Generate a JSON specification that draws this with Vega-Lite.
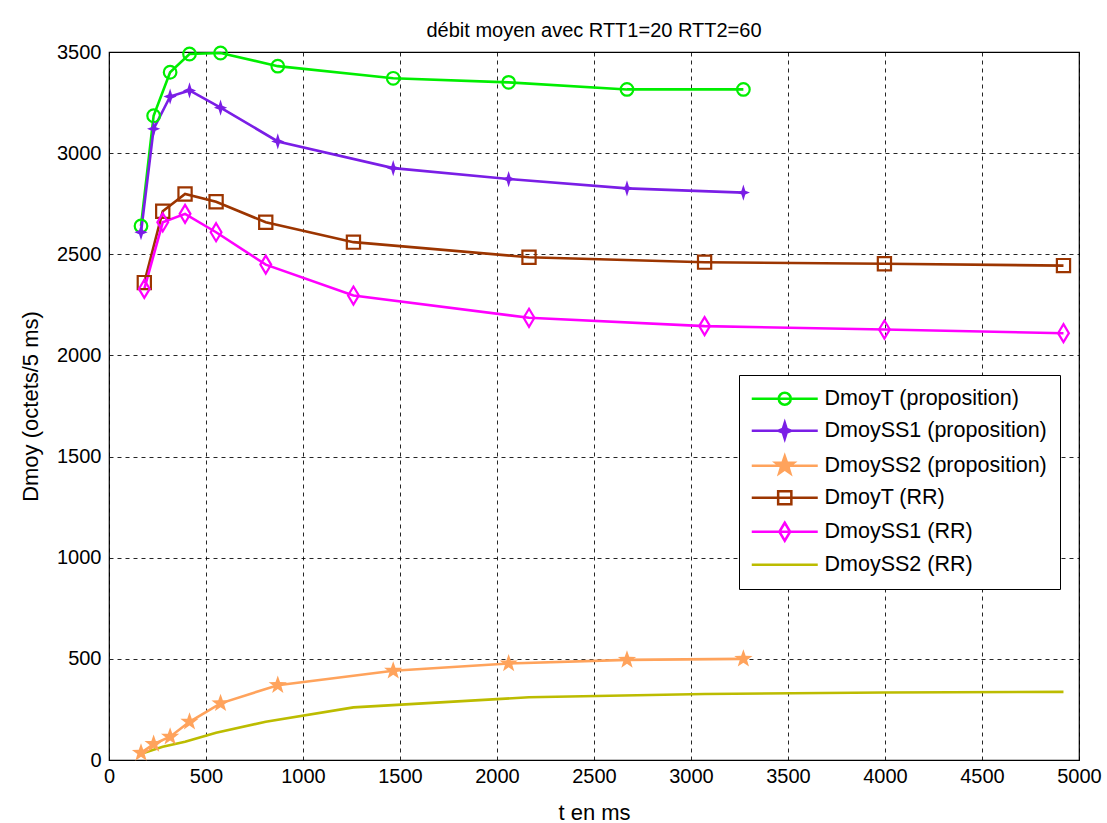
{
  "$schema": "https://vega.github.io/schema/vega-lite/v6.json",
  "width": 970,
  "height": 708,
  "autosize": {"type": "none"},
  "padding": {"left": 109, "top": 52, "right": 28, "bottom": 63},
  "background": "white",
  "title": {
    "text": "débit moyen avec RTT1=20 RTT2=60",
    "fontSize": 20,
    "fontWeight": "normal",
    "font": "Liberation Sans",
    "color": "black",
    "frame": "group",
    "offset": 1
  },
  "config": {
    "font": "Liberation Sans",
    "view": {"stroke": "black", "strokeWidth": 1.2},
    "axis": {
      "grid": true,
      "gridColor": "black",
      "gridDash": [4, 4],
      "gridOpacity": 0.85,
      "gridWidth": 1,
      "domain": false,
      "ticks": false,
      "labelFlush": false,
      "labelOverlap": false,
      "labelFont": "Liberation Sans",
      "labelFontSize": 20,
      "labelColor": "black",
      "titleFont": "Liberation Sans",
      "titleFontSize": 22,
      "titleFontWeight": "normal",
      "titleColor": "black"
    },
    "legend": {
      "title": null,
      "orient": "none",
      "legendX": 630,
      "legendY": 323,
      "direction": "vertical",
      "symbolSize": 144,
      "symbolStrokeWidth": 2.5,
      "symbolOpacity": 1,
      "symbolOffset": 22,
      "labelOffset": 29,
      "labelFont": "Liberation Sans",
      "labelFontSize": 21.5,
      "labelColor": "black",
      "labelLimit": 400,
      "strokeColor": "black",
      "fillColor": "white",
      "padding": 13,
      "rowPadding": 7
    }
  },
  "data": {
    "values": [
      {"series": "DmoyT (proposition)", "t": 165, "d": 2640},
      {"series": "DmoyT (proposition)", "t": 230, "d": 3185},
      {"series": "DmoyT (proposition)", "t": 315, "d": 3400},
      {"series": "DmoyT (proposition)", "t": 415, "d": 3490},
      {"series": "DmoyT (proposition)", "t": 575, "d": 3495},
      {"series": "DmoyT (proposition)", "t": 870, "d": 3430},
      {"series": "DmoyT (proposition)", "t": 1465, "d": 3370},
      {"series": "DmoyT (proposition)", "t": 2060, "d": 3350},
      {"series": "DmoyT (proposition)", "t": 2670, "d": 3315},
      {"series": "DmoyT (proposition)", "t": 3270, "d": 3315},
      {"series": "DmoySS1 (proposition)", "t": 165, "d": 2609},
      {"series": "DmoySS1 (proposition)", "t": 230, "d": 3120},
      {"series": "DmoySS1 (proposition)", "t": 315, "d": 3280},
      {"series": "DmoySS1 (proposition)", "t": 415, "d": 3310},
      {"series": "DmoySS1 (proposition)", "t": 575, "d": 3225},
      {"series": "DmoySS1 (proposition)", "t": 870, "d": 3058},
      {"series": "DmoySS1 (proposition)", "t": 1465, "d": 2926},
      {"series": "DmoySS1 (proposition)", "t": 2060, "d": 2872},
      {"series": "DmoySS1 (proposition)", "t": 2670, "d": 2826},
      {"series": "DmoySS1 (proposition)", "t": 3270, "d": 2805},
      {"series": "DmoySS2 (proposition)", "t": 165, "d": 35},
      {"series": "DmoySS2 (proposition)", "t": 230, "d": 79},
      {"series": "DmoySS2 (proposition)", "t": 315, "d": 115},
      {"series": "DmoySS2 (proposition)", "t": 415, "d": 189},
      {"series": "DmoySS2 (proposition)", "t": 575, "d": 280},
      {"series": "DmoySS2 (proposition)", "t": 870, "d": 370},
      {"series": "DmoySS2 (proposition)", "t": 1465, "d": 441},
      {"series": "DmoySS2 (proposition)", "t": 2060, "d": 477},
      {"series": "DmoySS2 (proposition)", "t": 2670, "d": 495},
      {"series": "DmoySS2 (proposition)", "t": 3270, "d": 500},
      {"series": "DmoyT (RR)", "t": 182, "d": 2360},
      {"series": "DmoyT (RR)", "t": 277, "d": 2713},
      {"series": "DmoyT (RR)", "t": 392, "d": 2798},
      {"series": "DmoyT (RR)", "t": 552, "d": 2760},
      {"series": "DmoyT (RR)", "t": 808, "d": 2658},
      {"series": "DmoyT (RR)", "t": 1260, "d": 2560},
      {"series": "DmoyT (RR)", "t": 2165, "d": 2485},
      {"series": "DmoyT (RR)", "t": 3070, "d": 2461},
      {"series": "DmoyT (RR)", "t": 3997, "d": 2453},
      {"series": "DmoyT (RR)", "t": 4920, "d": 2444},
      {"series": "DmoySS1 (RR)", "t": 182, "d": 2329},
      {"series": "DmoySS1 (RR)", "t": 277, "d": 2658},
      {"series": "DmoySS1 (RR)", "t": 392, "d": 2700},
      {"series": "DmoySS1 (RR)", "t": 552, "d": 2609},
      {"series": "DmoySS1 (RR)", "t": 808, "d": 2449},
      {"series": "DmoySS1 (RR)", "t": 1260, "d": 2296},
      {"series": "DmoySS1 (RR)", "t": 2165, "d": 2186},
      {"series": "DmoySS1 (RR)", "t": 3070, "d": 2145},
      {"series": "DmoySS1 (RR)", "t": 3997, "d": 2128},
      {"series": "DmoySS1 (RR)", "t": 4920, "d": 2110},
      {"series": "DmoySS2 (RR)", "t": 182, "d": 36},
      {"series": "DmoySS2 (RR)", "t": 277, "d": 66},
      {"series": "DmoySS2 (RR)", "t": 392, "d": 90},
      {"series": "DmoySS2 (RR)", "t": 552, "d": 135},
      {"series": "DmoySS2 (RR)", "t": 808, "d": 189},
      {"series": "DmoySS2 (RR)", "t": 1260, "d": 260},
      {"series": "DmoySS2 (RR)", "t": 2165, "d": 310},
      {"series": "DmoySS2 (RR)", "t": 3070, "d": 326},
      {"series": "DmoySS2 (RR)", "t": 3997, "d": 334},
      {"series": "DmoySS2 (RR)", "t": 4920, "d": 337}
    ]
  },
  "encoding": {
    "x": {
      "field": "t",
      "type": "quantitative",
      "scale": {"domain": [0, 5000], "nice": false, "zero": false},
      "axis": {
        "values": [0, 500, 1000, 1500, 2000, 2500, 3000, 3500, 4000, 4500, 5000],
        "format": "d",
        "title": "t en ms",
        "labelPadding": 6,
        "titlePadding": 16
      }
    },
    "y": {
      "field": "d",
      "type": "quantitative",
      "scale": {"domain": [0, 3500], "nice": false},
      "axis": {
        "values": [0, 500, 1000, 1500, 2000, 2500, 3000, 3500],
        "format": "d",
        "title": "Dmoy (octets/5 ms)",
        "labelPadding": 8,
        "titlePadding": 14
      }
    },
    "color": {
      "field": "series",
      "type": "nominal",
      "scale": {
        "domain": [
          "DmoyT (proposition)", "DmoySS1 (proposition)", "DmoySS2 (proposition)",
          "DmoyT (RR)", "DmoySS1 (RR)", "DmoySS2 (RR)",
          "DmoyT (proposition) ", "DmoySS1 (proposition) ", "DmoySS2 (proposition) ",
          "DmoyT (RR) ", "DmoySS1 (RR) ", "DmoySS2 (RR) "
        ],
        "range": [
          "#00ee00", "#7a1ee6", "#ffa35c", "#9c3500", "#ff00ff", "#bcbc00",
          "#00ee00", "#7a1ee6", "#ffa35c", "#9c3500", "#ff00ff", "#bcbc00"
        ]
      },
      "legend": {
        "values": [
          "DmoyT (proposition) ", "DmoySS1 (proposition) ", "DmoySS2 (proposition) ",
          "DmoyT (RR) ", "DmoySS1 (RR) ", "DmoySS2 (RR) "
        ],
        "labelExpr": "trim(datum.label)"
      }
    }
  },
  "layer": [
    {
      "mark": {"type": "line", "strokeWidth": 2.6}
    },
    {
      "transform": [{"filter": {"field": "series", "oneOf": ["DmoyT (proposition)", "DmoyT (RR)", "DmoySS1 (RR)"]}}],
      "mark": {"type": "point", "filled": false, "strokeWidth": 2.2, "opacity": 1, "size": 144},
      "encoding": {
        "shape": {
          "field": "series",
          "type": "nominal",
          "scale": {
            "domain": [
              "DmoyT (proposition)", "DmoySS1 (proposition)", "DmoySS2 (proposition)",
              "DmoyT (RR)", "DmoySS1 (RR)", "DmoySS2 (RR)",
              "DmoyT (proposition) ", "DmoySS1 (proposition) ", "DmoySS2 (proposition) ",
              "DmoyT (RR) ", "DmoySS1 (RR) ", "DmoySS2 (RR) "
            ],
            "range": [
              "M-1.05,0A1.05,1.05 0 1,0 1.05,0A1.05,1.05 0 1,0 -1.05,0Z",
              "M0,-1.35L0.32,-0.32L1.1,0L0.32,0.32L0,1.35L-0.32,0.32L-1.1,0L-0.32,-0.32Z",
              "M0,-1.6L0.376,-0.518L1.522,-0.494L0.608,0.198L0.941,1.294L0,0.64L-0.941,1.294L-0.608,0.198L-1.522,-0.494L-0.376,-0.518Z",
              "M-1.1,-1.1H1.1V1.1H-1.1Z",
              "M0,-1.5L0.9,0L0,1.5L-0.9,0Z",
              "circle",
              "M-5.5,0H5.5M-1,0A1,1 0 1,1 1,0A1,1 0 1,1 -1,0ZM-1,0A1,1 0 1,0 1,0A1,1 0 1,0 -1,0Z",
              "M-5.5,0H5.5M0,-1.35L0.32,-0.32L1.1,0L0.32,0.32L0,1.35L-0.32,0.32L-1.1,0L-0.32,-0.32Z",
              "M-5.5,0H5.5M0,-1.6L0.376,-0.518L1.522,-0.494L0.608,0.198L0.941,1.294L0,0.64L-0.941,1.294L-0.608,0.198L-1.522,-0.494L-0.376,-0.518Z",
              "M-5.5,0H5.5M-1.1,-1.1H1.1V1.1H-1.1ZM-1.1,-1.1V1.1H1.1V-1.1Z",
              "M-5.5,0H5.5M0,-1.5L0.9,0L0,1.5L-0.9,0ZM0,-1.5L-0.9,0L0,1.5L0.9,0Z",
              "M-5.5,0H5.5"
            ]
          },
          "legend": {
            "values": [
              "DmoyT (proposition) ", "DmoySS1 (proposition) ", "DmoySS2 (proposition) ",
              "DmoyT (RR) ", "DmoySS1 (RR) ", "DmoySS2 (RR) "
            ],
            "labelExpr": "trim(datum.label)"
          }
        }
      }
    },
    {
      "transform": [{"filter": {"field": "series", "oneOf": ["DmoySS1 (proposition)", "DmoySS2 (proposition)"]}}],
      "mark": {"type": "point", "filled": true, "strokeWidth": 1, "opacity": 1, "size": 144},
      "encoding": {
        "shape": {
          "field": "series",
          "type": "nominal",
          "legend": {
            "values": [
              "DmoyT (proposition) ", "DmoySS1 (proposition) ", "DmoySS2 (proposition) ",
              "DmoyT (RR) ", "DmoySS1 (RR) ", "DmoySS2 (RR) "
            ],
            "labelExpr": "trim(datum.label)"
          }
        }
      }
    }
  ]
}
